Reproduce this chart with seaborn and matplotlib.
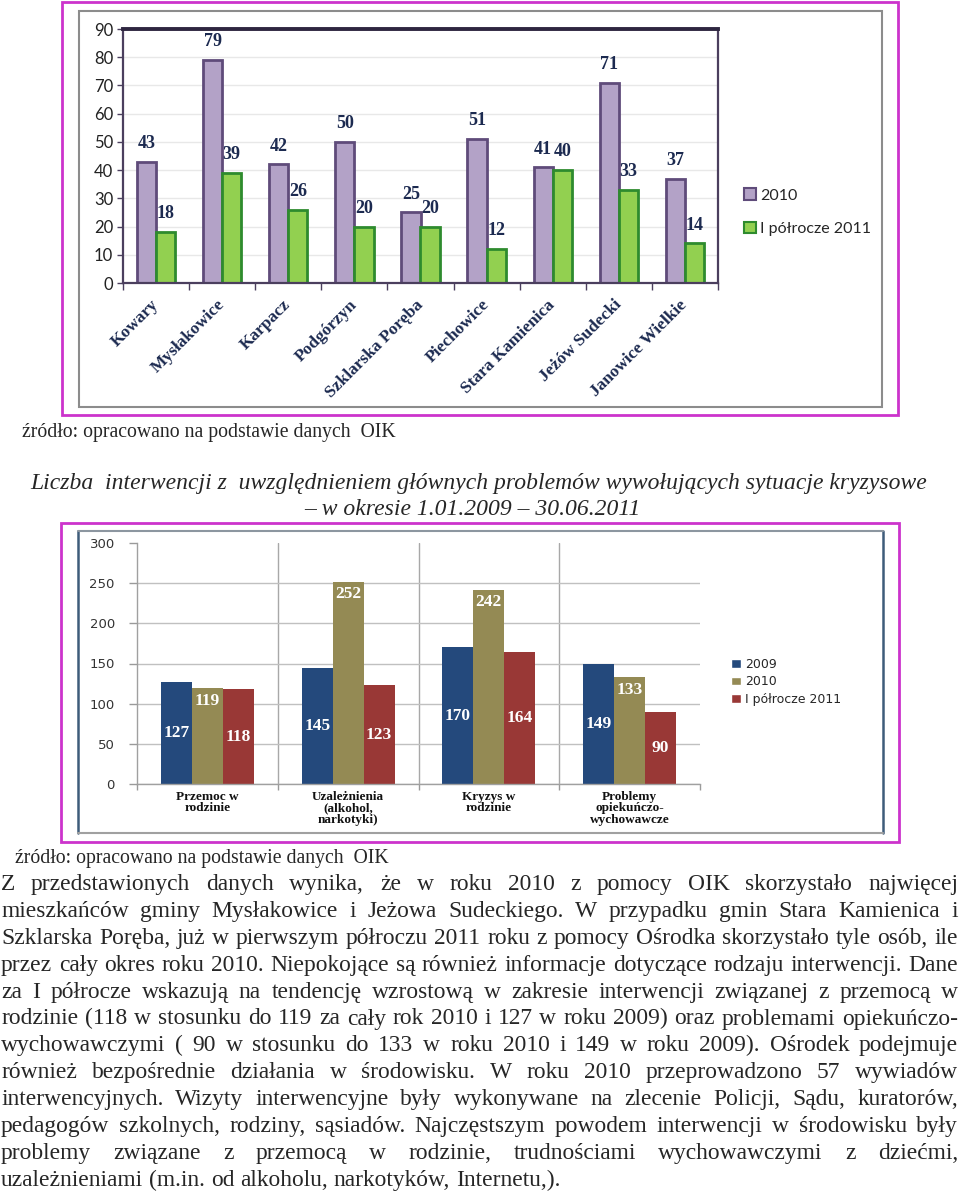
import numpy as np
import pandas as pd
import seaborn as sns
import matplotlib
matplotlib.use("Agg")
import matplotlib.pyplot as plt
from matplotlib.patches import Rectangle, Patch
from matplotlib.lines import Line2D

# ---- dane: wykres 1 (gminy) ----
gminy = ["Kowary", "Mysłakowice", "Karpacz", "Podgórzyn", "Szklarska Poręba",
         "Piechowice", "Stara Kamienica", "Jeżów Sudecki", "Janowice Wielkie"]
v_2010 = [43, 79, 42, 50, 25, 51, 41, 71, 37]
v_2011 = [18, 39, 26, 20, 20, 12, 40, 33, 14]
serie1 = ["2010", "I półrocze 2011"]

# ---- dane: wykres 2 (rodzaj interwencji) ----
kategorie = ["Przemoc w\nrodzinie", "Uzależnienia\n(alkohol,\nnarkotyki)",
             "Kryzys w\nrodzinie", "Problemy\nopiekuńczo-\nwychowawcze"]
r_2009 = [127, 145, 170, 149]
r_2010 = [119, 252, 242, 133]
r_2011 = [118, 123, 164, 90]
serie2 = ["2009", "2010", "I półrocze 2011"]

zrodlo = "źródło: opracowano na podstawie danych  OIK"
tytul = ["Liczba  interwencji z  uwzględnieniem głównych problemów wywołujących sytuacje kryzysowe",
         "– w okresie 1.01.2009 – 30.06.2011"]
akapit = [
    "Z przedstawionych danych wynika, że w roku 2010 z pomocy OIK skorzystało najwięcej",
    "mieszkańców gminy Mysłakowice i Jeżowa Sudeckiego. W przypadku gmin Stara Kamienica i",
    "Szklarska Poręba, już w pierwszym półroczu 2011 roku z pomocy Ośrodka skorzystało tyle osób, ile",
    "przez cały okres roku 2010. Niepokojące są również informacje dotyczące rodzaju interwencji. Dane",
    "za I półrocze wskazują na tendencję wzrostową w zakresie interwencji związanej z przemocą w",
    "rodzinie (118 w stosunku do 119 za cały rok 2010 i 127 w roku 2009) oraz problemami opiekuńczo-",
    "wychowawczymi ( 90 w stosunku do 133 w roku 2010 i 149 w roku 2009). Ośrodek podejmuje",
    "również bezpośrednie działania w środowisku. W roku 2010 przeprowadzono 57 wywiadów",
    "interwencyjnych. Wizyty interwencyjne były wykonywane na zlecenie Policji, Sądu, kuratorów,",
    "pedagogów szkolnych, rodziny, sąsiadów. Najczęstszym powodem interwencji w środowisku były",
    "problemy związane z przemocą w rodzinie, trudnościami wychowawczymi z dziećmi,",
    "uzależnieniami (m.in. od alkoholu, narkotyków, Internetu,).",
]

sns.set_style("white")
plt.rcParams['font.family'] = ['DejaVu Sans']

W, H = 960, 1195
fig = plt.figure(figsize=(W / 100, H / 100), dpi=100)
fig.patch.set_facecolor("white")


def fx(px):
    return px / W


def fy(py):
    return 1 - py / H


def box(x0, y0, x1, y1, color, lw=1.5):
    fig.add_artist(Rectangle((fx(x0), fy(y1)), fx(x1) - fx(x0), fy(y0) - fy(y1),
                             transform=fig.transFigure, fill=False, ec=color, lw=lw))


def hline(x0, x1, y, color, lw=1.5):
    fig.add_artist(Line2D([fx(x0), fx(x1)], [fy(y), fy(y)], transform=fig.transFigure,
                          color=color, lw=lw))


def vline(x, y0, y1, color, lw=1.5):
    fig.add_artist(Line2D([fx(x), fx(x)], [fy(y0), fy(y1)], transform=fig.transFigure,
                          color=color, lw=lw))


MAGENTA = "#CC33CC"

# ================= wykres 1 =================
box(62, 2, 898, 415, MAGENTA, 2)
box(79, 11, 882, 407, "#8C8C8C", 1.5)

purple, purple_ec = "#B3A2C7", "#5F4B7A"
green, green_ec = "#92D050", "#2E8B2E"

df1 = pd.DataFrame({
    "gmina": gminy * 2,
    "seria": [serie1[0]] * len(gminy) + [serie1[1]] * len(gminy),
    "liczba": v_2010 + v_2011,
})

ax1 = fig.add_axes([fx(123), fy(283), fx(718) - fx(123), fy(29) - fy(283)])
sns.barplot(data=df1, x="gmina", y="liczba", hue="seria", palette=[purple, green],
            width=0.58, saturation=1, legend=False, ax=ax1)
for cont, ec in zip(ax1.containers, [purple_ec, green_ec]):
    for b in cont:
        b.set_edgecolor(ec)
        b.set_linewidth(2)
    ax1.bar_label(cont, fmt="{:.0f}", padding=7, fontsize=13, fontweight="bold",
                  family="Liberation Serif", color="#1C2A50")

ax1.set_ylim(0, 90)
ax1.set_xlim(-0.5, len(gminy) - 0.5)
ax1.set_yticks(np.arange(0, 91, 10))
ax1.set_xlabel("")
ax1.set_ylabel("")
for lab in ax1.get_yticklabels():
    lab.set_family("Lato")
    lab.set_fontsize(12)
    lab.set_color("#222222")
ax1.set_xticks(range(len(gminy)))
ax1.set_xticklabels(gminy, rotation=45, ha="right", va="center", rotation_mode="anchor",
                    fontsize=12.5, fontweight="bold", family="Liberation Serif", color="#1C2A50")
ax1.set_xticks(np.arange(-0.5, len(gminy), 1), minor=True)
ax1.tick_params(axis="x", which="major", length=0, pad=14)
ax1.tick_params(axis="x", which="minor", length=5, width=1, color="#4B3F5E", direction="out", bottom=True)
ax1.tick_params(axis="y", length=4, width=1, color="#4B3F5E", direction="out", left=True, pad=3)
ax1.yaxis.grid(True, color="#E8E8E8", lw=1)
ax1.set_axisbelow(True)
for s in ["left", "right", "bottom"]:
    ax1.spines[s].set_color("#4B3F5E")
    ax1.spines[s].set_linewidth(1.6)
ax1.spines["top"].set_color("#2E2640")
ax1.spines["top"].set_linewidth(2.8)

fig.legend(handles=[Patch(fc=purple, ec=purple_ec, lw=1.5), Patch(fc=green, ec=green_ec, lw=1.5)],
           labels=serie1, loc="upper left", bbox_to_anchor=(fx(738), fy(182)), frameon=False,
           prop={"family": "Lato", "size": 11.5}, handlelength=0.7, handleheight=0.7,
           handletextpad=0.3, labelspacing=1.2, borderaxespad=0)

# ================= podpisy =================
fig.text(fx(22), fy(437), zrodlo, fontsize=14.2, family="Liberation Serif", va="baseline", ha="left")
fig.text(fx(479), fy(489), tytul[0], fontsize=17, family="Liberation Serif", style="italic",
         va="baseline", ha="center")
fig.text(fx(472), fy(515), tytul[1], fontsize=17, family="Liberation Serif", style="italic",
         va="baseline", ha="center")

# ================= wykres 2 =================
box(61, 523, 899, 842, MAGENTA, 2)
vline(78, 531, 833, "#3E5C7A", 1.8)
vline(883, 531, 833, "#3E5C7A", 1.8)
hline(78, 883, 531, "#8C96A0", 1.5)
hline(78, 883, 833, "#A0A0A0", 1.5)

c2009, c2010, c2011 = "#24497C", "#948A54", "#993836"
df2 = pd.DataFrame({
    "kategoria": kategorie * 3,
    "seria": [s for s in serie2 for _ in kategorie],
    "liczba": r_2009 + r_2010 + r_2011,
})

ax2 = fig.add_axes([fx(137), fy(784), fx(700) - fx(137), fy(543) - fy(784)])
sns.barplot(data=df2, x="kategoria", y="liczba", hue="seria", palette=[c2009, c2010, c2011],
            width=0.66, saturation=1, legend=False, ax=ax2)
for i, cont in enumerate(ax2.containers):
    for b in cont:
        b.set_edgecolor("none")
    if i == 1:
        ax2.bar_label(cont, fmt="{:.0f}", label_type="edge", padding=-15, fontsize=12.5,
                      fontweight="bold", family="Liberation Serif", color="white")
    else:
        ax2.bar_label(cont, fmt="{:.0f}", label_type="center", fontsize=12.5,
                      fontweight="bold", family="Liberation Serif", color="white")

ax2.set_ylim(0, 300)
ax2.set_xlim(-0.5, len(kategorie) - 0.5)
ax2.set_yticks(np.arange(0, 301, 50))
ax2.set_xlabel("")
ax2.set_ylabel("")
for lab in ax2.get_yticklabels():
    lab.set_family("DejaVu Sans")
    lab.set_fontsize(9.5)
    lab.set_color("#333333")
ax2.set_xticks(range(len(kategorie)))
ax2.set_xticklabels(kategorie, fontsize=9.5, fontweight="bold", family="Liberation Serif",
                    color="#111111", linespacing=0.95, va="top")
ax2.set_xticks(np.arange(-0.5, len(kategorie), 1), minor=True)
ax2.tick_params(axis="x", which="major", length=0, pad=5)
ax2.tick_params(axis="x", which="minor", length=4, width=1, color="#9A9A9A", bottom=True)
ax2.tick_params(axis="y", length=6, width=1, color="#9A9A9A", left=True, pad=10)
ax2.yaxis.grid(True, color="#C0C0C0", lw=1)
ax2.yaxis.get_gridlines()[-1].set_visible(False)
for k in range(len(kategorie) - 1):
    ax2.axvline(k + 0.5, color="#A8A8A8", lw=1, zorder=0)
ax2.set_axisbelow(True)
for s in ["top", "right"]:
    ax2.spines[s].set_visible(False)
for s in ["left", "bottom"]:
    ax2.spines[s].set_color("#A0A0A0")
    ax2.spines[s].set_linewidth(1)

fig.legend(handles=[Patch(fc=c) for c in [c2009, c2010, c2011]], labels=serie2,
           loc="upper left", bbox_to_anchor=(fx(726), fy(653)), frameon=False,
           prop={"family": "DejaVu Sans", "size": 9}, handlelength=0.8, handleheight=0.7,
           handletextpad=0.3, labelspacing=0.35, borderaxespad=0)

fig.text(fx(15), fy(863), zrodlo, fontsize=14.2, family="Liberation Serif", va="baseline", ha="left")

# ================= akapit (wyjustowany) =================
renderer = fig.canvas.get_renderer()
FAM = "Liberation Serif"


def width_of(s, fs):
    t = fig.text(0, 0, s, fontsize=fs, family=FAM)
    w = t.get_window_extent(renderer).width
    t.remove()
    return w


x_left, x_right = 1, 958
fs0 = 16
sp0 = width_of("a a", fs0) - width_of("aa", fs0)
nat = []
for line in akapit:
    words = line.split()
    nat.append(sum(width_of(w, fs0) for w in words) + sp0 * (len(words) - 1))
fs = fs0 * (x_right - x_left) / max(nat) * 0.995
sp = width_of("a a", fs) - width_of("aa", fs)

base0, step = 890, 26.9
for i, line in enumerate(akapit):
    words = line.split()
    ws = [width_of(w, fs) for w in words]
    if i < len(akapit) - 1 and len(words) > 1:
        gap = (x_right - x_left - sum(ws)) / (len(words) - 1)
    else:
        gap = sp
    x = x_left
    for w, wd in zip(words, ws):
        fig.text(fx(x), fy(base0 + i * step), w, fontsize=fs, family=FAM, va="baseline", ha="left")
        x += wd + gap

fig.savefig("out.png", dpi=100)
